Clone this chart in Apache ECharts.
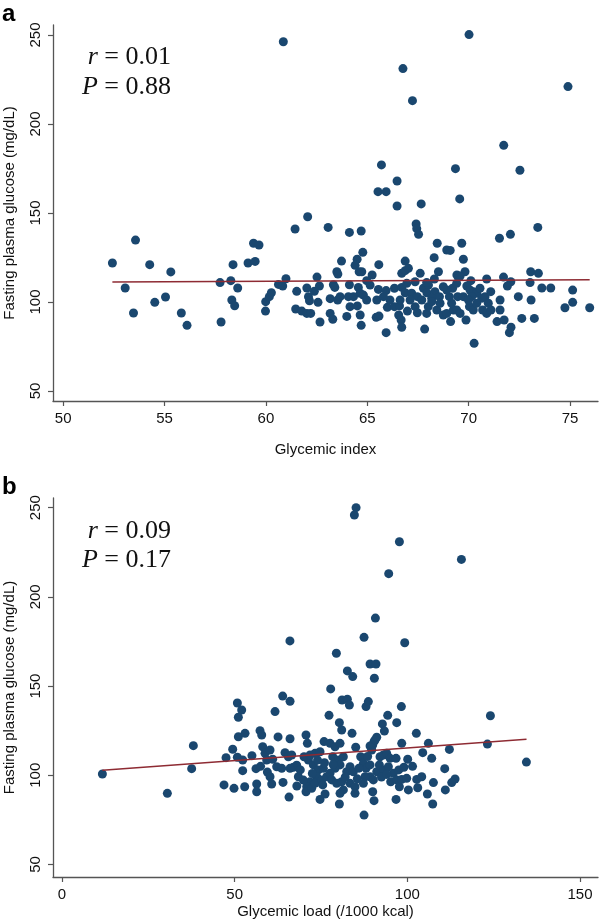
<!DOCTYPE html>
<html><head><meta charset="utf-8">
<script src="https://cdn.jsdelivr.net/npm/echarts@6/dist/echarts.min.js"></script>
<style>html,body{margin:0;padding:0;background:#fff}#c{width:600px;height:922px}</style>
</head><body><div id="c"></div>
<script>
// Panel a: Glycemic index vs fasting plasma glucose
const giX = [60.86,70.02,66.76,67.23,74.90,71.73,65.70,69.35,72.53,66.47,65.53,65.93,69.56,
52.43,53.06,53.57,53.47,54.27,54.52,55.05,55.31,55.83,56.11,57.74,57.79,58.27,58.38,58.61,58.32,58.46,59.12,59.47,59.39,59.66,59.99,59.98,60.17,60.27,60.62,60.83,60.99,61.44,62.06,61.52,61.47,61.77,62.02,62.21,62.02,62.10,62.15,62.39,62.52,62.64,62.57,62.67,
63.07,64.12,64.70,66.47,67.66,67.41,67.44,67.53,71.52,72.06,73.41,68.45,69.66,68.92,69.09,64.78,63.73,65.57,66.87,68.30,69.74,64.50,64.40,64.60,64.73,63.50,63.55,
65.24,64.97,65.14,66.70,66.87,67.03,67.61,68.51,69.42,69.82,69.58,70.89,71.72,72.08,73.06,73.44,73.03,68.31,70.11,63.33,63.40,64.12,63.17,63.54,64.07,64.56,64.65,64.81,65.55,65.93,66.34,66.70,66.87,67.19,67.47,67.77,68.02,67.94,68.34,68.18,68.56,69.05,69.21,69.41,69.46,69.91,70.07,70.24,70.40,70.15,70.65,70.81,71.09,71.55,71.91,72.45,73.08,73.61,74.05,75.13,75.13,
63.17,63.30,63.99,64.15,64.51,64.65,64.70,65.44,65.58,65.99,65.93,66.34,66.59,66.55,66.67,66.70,66.98,67.36,67.47,67.83,67.93,68.01,68.18,68.43,68.59,68.75,68.92,69.11,69.25,69.41,69.58,69.87,70.04,70.23,70.27,70.69,70.89,70.97,71.10,71.40,71.55,71.75,72.01,72.09,72.62,73.24,74.75,75.97,
67.11,67.69,68.92,69.16,69.74,69.99,70.40,70.56,67.36,67.93,66.62,66.12,66.95,68.75,65.47,65.80,63.66,64.32,64.97];
const giY = [246.2,250.2,231.1,213.1,221.0,188.0,177.0,174.9,174.0,168.0,162.0,162.0,157.9,
121.9,107.9,134.8,93.8,121.0,99.8,102.8,116.9,93.8,86.9,110.9,88.8,112.0,121.0,107.9,101.1,97.9,121.9,122.8,133.0,132.0,100.2,94.9,103.0,105.2,109.9,109.0,113.1,141.0,147.9,106.0,96.1,94.9,93.6,93.6,107.9,103.0,100.7,106.0,114.0,109.0,99.8,88.8,
141.9,139.1,139.9,153.9,155.1,143.8,141.2,138.0,135.8,138.0,141.9,133.0,133.0,129.2,129.0,127.9,123.0,121.0,123.0,124.9,124.0,124.0,120.6,117.0,117.0,117.0,115.7,
115.2,112.0,109.5,116.1,117.6,118.9,116.1,117.0,115.2,117.0,114.6,112.9,114.0,111.4,117.0,116.1,110.9,112.9,112.0,109.7,108.2,109.7,101.9,101.1,103.0,108.2,104.9,103.9,107.1,106.4,107.7,108.2,105.2,104.9,103.0,107.7,109.5,105.2,105.8,102.1,103.0,103.0,107.7,110.5,103.0,109.0,106.7,105.8,104.9,103.0,102.1,103.0,105.8,101.1,109.0,103.0,101.1,107.9,107.9,106.7,99.8,
93.6,90.3,91.9,97.4,97.8,92.7,86.9,91.4,92.1,97.0,82.8,97.4,97.8,92.7,89.9,85.8,94.9,97.4,94.0,84.8,93.6,97.4,100.2,95.5,99.3,92.7,93.6,89.0,95.5,95.5,93.6,89.9,97.4,95.5,76.8,95.5,93.6,99.3,95.5,89.0,95.5,89.9,82.8,85.8,90.8,90.8,96.8,96.8,
101.1,101.1,106.7,99.3,103.0,101.1,99.3,107.7,111.4,110.9,101.1,101.1,110.5,108.6,101.1,103.0,103.0,103.0,101.1];
const giFitX = [52.43, 75.97];
const giFitY = [111.2, 112.5];
const giTicks = [50, 55, 60, 65, 70, 75];

// Panel b: Glycemic load vs fasting plasma glucose
const glX = [11.70,30.51,37.55,38.04,85.15,84.66,97.70,115.65,94.60,90.75,87.46,99.24,66.00,79.45,82.63,84.18,89.20,90.93,90.45,77.80,81.09,82.63,83.21,88.04,88.71,98.27,94.31,96.92,63.90,66.03,61.69,50.78,52.03,51.07,77.32,80.32,80.99,83.98,92.77,93.35,91.13,90.35,89.20,102.60,51.07,53.00,
71.34,72.79,74.24,75.68,73.75,71.82,70.86,70.66,72.30,73.27,75.20,76.65,75.88,77.61,79.06,80.51,78.39,80.03,81.47,80.51,79.06,77.61,78.10,79.54,80.99,81.47,80.51,82.44,83.41,84.37,83.41,84.85,84.85,86.49,87.27,88.04,89.20,89.20,87.75,87.27,90.16,91.13,89.68,89.97,90.64,92.09,93.06,94.02,94.99,91.90,93.06,94.51,95.95,95.18,96.92,97.69,96.73,98.37,99.81,100.30,100.10,98.37,96.73,102.71,104.16,105.80,107.54,107.34,107.05,104.45,106.09,
46.92,49.81,47.50,49.43,50.78,52.32,52.32,52.90,56.18,56.38,56.38,57.34,57.83,58.12,58.79,60.24,59.27,62.56,66.03,59.47,60.24,60.72,62.17,63.62,64.58,65.55,66.51,65.74,67.96,67.00,66.03,68.44,69.89,70.66,71.05,70.08,71.82,73.27,74.72,75.49,74.72,76.17,80.32,85.05,87.46,89.97,90.35,
124.05,123.18,134.47,112.17,110.82,113.81,112.85,111.00,
76.0,78.5,82.0,85.5,86.0,88.5,92.5,94.0,97.5,99.0,101.5,103.0,74.0,72.5,69.0,68.0,64.0,61.0,57.5,55.0];
const glY = [100.7,89.9,103.7,116.6,250.0,245.9,230.9,221.0,213.0,188.1,177.3,174.3,175.3,168.4,158.5,155.3,162.4,162.4,154.4,148.4,142.2,142.6,139.4,138.5,141.3,138.5,133.6,129.5,144.4,141.5,135.7,140.5,136.6,132.5,133.6,129.5,125.4,123.5,128.8,124.8,121.3,118.9,116.4,123.5,121.6,123.5,
108.6,105.8,103.0,103.9,99.2,96.4,93.6,90.8,92.7,95.5,97.4,99.2,118.9,117.9,116.0,117.9,110.4,108.6,110.4,105.8,103.9,101.1,97.4,95.5,96.4,91.8,89.9,102.0,104.8,102.0,95.5,93.6,89.9,110.4,106.7,103.9,105.8,99.2,99.2,95.5,97.4,102.0,114.2,117.0,119.8,110.4,111.4,112.3,109.5,105.8,103.0,104.8,101.1,96.4,97.4,93.6,86.5,97.7,98.3,91.8,109.0,117.9,109.5,97.7,99.2,89.5,95.9,83.9,109.5,112.7,117.9,
94.6,92.7,109.9,114.6,110.1,108.6,102.6,93.6,103.7,95.1,90.8,125.0,122.6,116.0,112.3,114.2,108.6,121.5,120.5,101.8,99.2,95.1,104.8,103.9,112.7,110.4,111.4,87.8,105.6,104.5,103.9,99.2,97.3,122.6,117.9,110.4,111.4,112.3,113.2,94.6,86.5,89.5,83.9,115.7,77.7,90.8,85.8,
133.4,117.5,107.4,114.5,103.7,97.9,95.9,91.8,
107.0,106.0,99.0,98.0,104.0,110.5,99.0,100.5,103.0,104.5,105.0,93.0,108.5,101.0,103.0,94.0,96.0,109.0,105.0,111.0];
const glFitX = [11.7, 134.5];
const glFitY = [102.8, 120.2];
const glTicks = [0, 50, 100, 150];

const yTicks = [50, 100, 150, 200, 250];

const FONT = '"Liberation Sans", Arial, Helvetica, sans-serif';
const SERIF = '"Liberation Serif", "Times New Roman", serif';
const DOT = '#1a476f';
const FIT = '#8e2b33';
const AX = '#555555';

function pairs(xs, ys) { return xs.map((x, i) => [x, ys[i]]); }

function xAxisCfg(gi, min, max, ticks, name, gap) {
  return {
    type: 'value', gridIndex: gi, min: min, max: max,
    name: name, nameLocation: 'middle', nameGap: gap,
    nameTextStyle: { fontFamily: FONT, fontSize: 15, color: '#111' },
    axisLine: { show: true, onZero: false, lineStyle: { color: AX, width: 1.3 } },
    axisTick: { show: true, length: 5, customValues: ticks, lineStyle: { color: AX, width: 1.2 } },
    axisLabel: { customValues: ticks, margin: 10, fontFamily: FONT, fontSize: 15, color: '#111' },
    splitLine: { show: false }
  };
}
function yAxisCfg(gi, min, max) {
  return {
    type: 'value', gridIndex: gi, min: min, max: max,
    name: 'Fasting plasma glucose (mg/dL)', nameLocation: 'middle', nameGap: 36, nameRotate: 90,
    nameTextStyle: { fontFamily: FONT, fontSize: 15, color: '#111' },
    axisLine: { show: true, onZero: false, lineStyle: { color: AX, width: 1.3 } },
    axisTick: { show: true, length: 5, customValues: yTicks, lineStyle: { color: AX, width: 1.2 } },
    axisLabel: { customValues: yTicks, rotate: 90, margin: 10, fontFamily: FONT, fontSize: 15, color: '#111' },
    splitLine: { show: false }
  };
}

function statText(x, y, letter, rest) {
  return {
    type: 'text', x: x, y: y,
    style: {
      text: '{i|' + letter + '} = ' + rest,
      font: '26px ' + SERIF, fill: '#111', align: 'right', verticalAlign: 'middle',
      rich: { i: { fontFamily: SERIF, fontStyle: 'italic', fontSize: 26, fill: '#111' } }
    }
  };
}

const chart = echarts.init(document.getElementById('c'), null, { renderer: 'canvas' });
chart.setOption({
  animation: false,
  backgroundColor: '#fff',
  grid: [
    { left: 53, top: 25, width: 545, height: 376, containLabel: false, outerBoundsMode: 'none' },
    { left: 53, top: 498, width: 545, height: 379, containLabel: false, outerBoundsMode: 'none' }
  ],
  xAxis: [
    xAxisCfg(0, 49.5, 76.38, giTicks, 'Glycemic index', 41),
    xAxisCfg(1, -2.6, 155.2, glTicks, 'Glycemic load (/1000 kcal)', 27)
  ],
  yAxis: [yAxisCfg(0, 44.4, 255.6), yAxisCfg(1, 43.0, 255.4)],
  series: [
    { type: 'scatter', xAxisIndex: 0, yAxisIndex: 0, data: pairs(giX, giY), symbol: 'circle', symbolSize: 9, itemStyle: { color: DOT, opacity: 1 } },
    { type: 'line', xAxisIndex: 0, yAxisIndex: 0, data: pairs(giFitX, giFitY), showSymbol: false, symbol: 'none', z: 5, lineStyle: { color: FIT, width: 1.5 } },
    { type: 'scatter', xAxisIndex: 1, yAxisIndex: 1, data: pairs(glX, glY), symbol: 'circle', symbolSize: 9, itemStyle: { color: DOT, opacity: 1 } },
    { type: 'line', xAxisIndex: 1, yAxisIndex: 1, data: pairs(glFitX, glFitY), showSymbol: false, symbol: 'none', z: 5, lineStyle: { color: FIT, width: 1.5 } }
  ],
  graphic: [
    { type: 'text', x: 2, y: 14, style: { text: 'a', font: 'bold 24px ' + FONT, fill: '#000', verticalAlign: 'middle' } },
    { type: 'text', x: 2, y: 487, style: { text: 'b', font: 'bold 24px ' + FONT, fill: '#000', verticalAlign: 'middle' } },
    statText(171, 57, 'r', '0.01'),
    statText(171, 87, 'P', '0.88'),
    statText(171, 531, 'r', '0.09'),
    statText(171, 560, 'P', '0.17')
  ]
});
</script>
</body></html>
